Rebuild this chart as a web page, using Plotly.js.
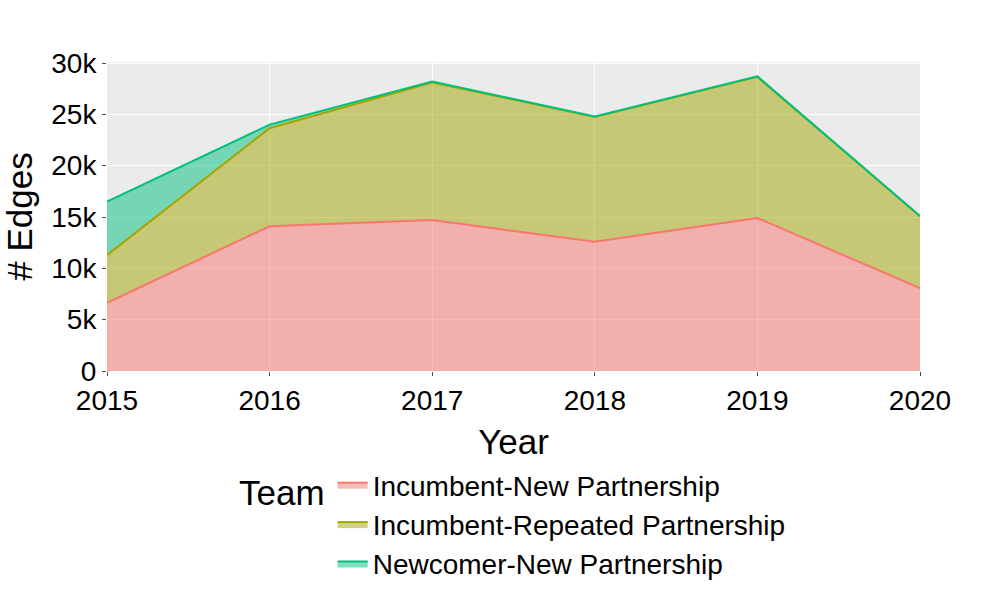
<!DOCTYPE html>
<html>
<head>
<meta charset="utf-8">
<script src="https://cdn.plot.ly/plotly-3.0.1.min.js"></script>
<style>
  body { margin: 0; background: #fff; }
  #chart { width: 1000px; height: 600px; }
</style>
</head>
<body>
<div id="chart"></div>
<script>
const years = [2015, 2016, 2017, 2018, 2019, 2020];
const teams = ['Incumbent-New Partnership', 'Incumbent-Repeated Partnership', 'Newcomer-New Partnership'];
const incumbentNew = [6640, 14100, 14700, 12600, 14900, 8070];
const incumbentRepeated = [4650, 9550, 13400, 12150, 13750, 7000];
const newcomerNew = [5200, 350, 100, 50, 50, 30];
const lineColors = ['#F8766D', '#A3A500', '#00BF7D'];
const fillColors = ['rgba(248,118,109,0.5)', 'rgba(163,165,0,0.5)', 'rgba(0,191,125,0.5)'];

const series = [incumbentNew, incumbentRepeated, newcomerNew];
const traces = series.map((vals, i) => ({
    x: years,
    y: vals,
    name: teams[i],
    type: 'scatter',
    mode: 'lines',
    stackgroup: 'one',
    legendgroup: 'g' + i,
    line: {color: lineColors[i], width: 2},
    fillcolor: fillColors[i],
}));

const layout = {
    width: 1000,
    height: 600,
    margin: {l: 107, r: 80, t: 62, b: 229, autoexpand: false},
    paper_bgcolor: '#ffffff',
    plot_bgcolor: '#EBEBEB',
    font: {family: '"Liberation Sans", Arial, sans-serif', color: '#000000'},
    xaxis: {
        title: {text: 'Year', font: {size: 35}, standoff: 14},
        range: [2015, 2020],
        tickvals: years,
        ticktext: years.map(String),
        tickfont: {size: 28},
        ticks: 'outside',
        ticklen: 4,
        tickcolor: '#4d4d4d',
        showgrid: true,
        gridcolor: '#ffffff',
        gridwidth: 1,
        zeroline: false,
        showline: false,
    },
    yaxis: {
        title: {text: '# Edges', font: {size: 35}, standoff: 10},
        range: [0, 30100],
        tickvals: [0, 5000, 10000, 15000, 20000, 25000, 30000],
        ticktext: ['0', '5k', '10k', '15k', '20k', '25k', '30k'],
        tickfont: {size: 28},
        ticks: 'outside',
        ticklen: 4,
        tickcolor: '#4d4d4d',
        showgrid: true,
        gridcolor: '#ffffff',
        gridwidth: 1,
        zeroline: false,
        showline: false,
    },
    showlegend: true,
    legend: {
        orientation: 'v',
        x: 0.160,
        xanchor: 'left',
        y: -0.288,
        yanchor: 'top',
        traceorder: 'normal',
        tracegroupgap: 0,
        font: {size: 28},
        title: {text: 'Team', side: 'left', font: {size: 35}},
        bgcolor: 'rgba(0,0,0,0)',
    },
};

Plotly.newPlot('chart', traces, layout, {displayModeBar: false});
</script>
</body>
</html>
